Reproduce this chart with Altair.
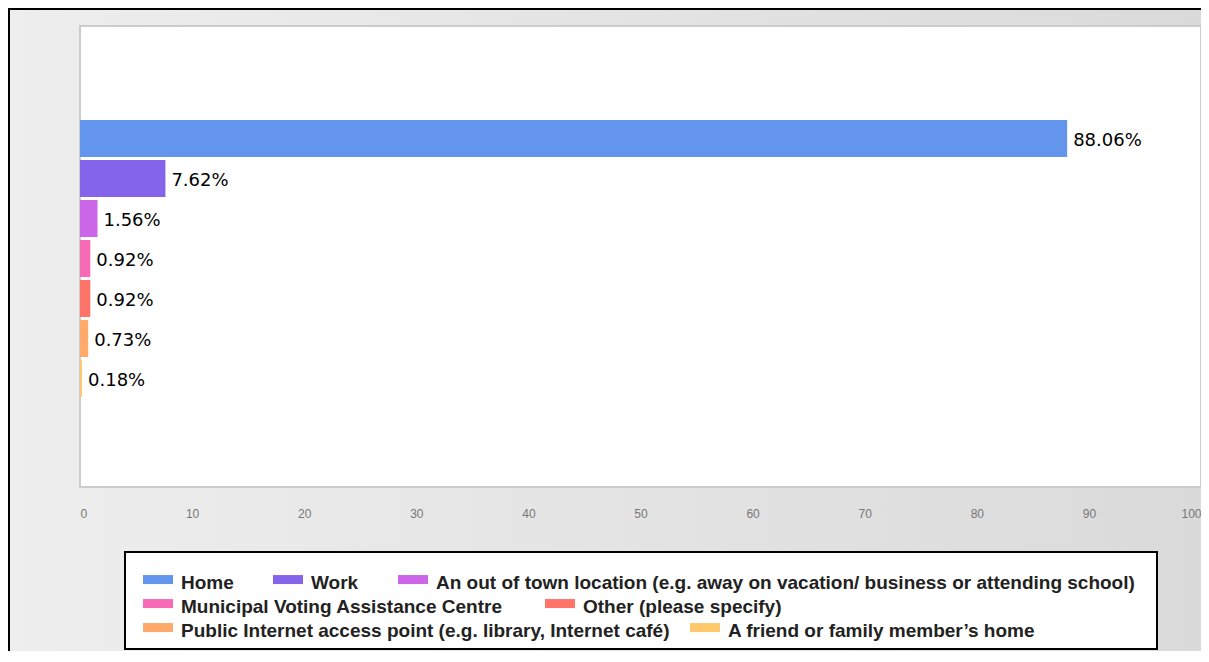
import altair as alt
import pandas as pd

categories = [
    "Home",
    "Work",
    "An out of town location (e.g. away on vacation/ business or attending school)",
    "Municipal Voting Assistance Centre",
    "Other (please specify)",
    "Public Internet access point (e.g. library, Internet café)",
    "A friend or family member\u2019s home",
]
values = [88.06, 7.62, 1.56, 0.92, 0.92, 0.73, 0.18]
colors = ["#6495ED", "#8464EA", "#CC66E8", "#F76AB5", "#FF7369", "#FFAA6B", "#FFC86B"]
x_ticks = [0, 10, 20, 30, 40, 50, 60, 70, 80, 90, 100]
legend_rows = [[0, 1, 2], [3, 4], [5, 6]]

df = pd.DataFrame({"cat": categories, "value": values})
df["label"] = [f"{v:.2f}%" for v in values]

PAD_L, PAD_T, PAD_R, PAD_B = 72, 18, 0, 164
W, H = 1121, 461
RIGHT = W + PAD_R
BOTTOM = H + PAD_B
one = pd.DataFrame({"k": [0]})

axis_def = alt.Axis(values=x_ticks, ticks=False, domain=False, grid=False, title=None,
                    labelColor="#777777", labelFontSize=12, labelFont="Liberation Sans",
                    labelPadding=21, zindex=1)
xenc = alt.X("value:Q", scale=alt.Scale(domain=[0, 100], nice=False, zero=True), axis=axis_def)
yenc = alt.Y("cat:N", sort=categories,
             scale=alt.Scale(domain=categories, paddingInner=0.075, paddingOuter=0,
                             range=[94, 371]),
             axis=None)

bg = alt.Chart(one).mark_rect(
    fill=alt.LinearGradient(gradient="linear", x1=0, x2=1, y1=0, y2=0,
                            stops=[alt.GradientStop(color="#eeeeee", offset=0),
                                   alt.GradientStop(color="#dadada", offset=1)]),
).encode(x=alt.value(-PAD_L), x2=alt.value(RIGHT), y=alt.value(-PAD_T), y2=alt.value(BOTTOM))

border_left = alt.Chart(one).mark_rule(color="black", strokeWidth=2).encode(
    x=alt.value(-PAD_L + 1), y=alt.value(-PAD_T), y2=alt.value(BOTTOM))
border_top = alt.Chart(one).mark_rule(color="black", strokeWidth=2).encode(
    x=alt.value(-PAD_L), x2=alt.value(RIGHT), y=alt.value(-PAD_T + 1))

plotbox = alt.Chart(one).mark_rect(fill="white", stroke="#cccccc", strokeWidth=2).encode(
    x=alt.value(0), x2=alt.value(W), y=alt.value(0), y2=alt.value(H))

legbox = alt.Chart(one).mark_rect(fill="white", stroke="black", strokeWidth=2).encode(
    x=alt.value(45), x2=alt.value(1077), y=alt.value(526), y2=alt.value(623))

sym = "M-1,-0.53H1V0.07H-1Z"
leg_y = [542, 566, 590]
col_pad = [39, 42, 20]
bar_layers = []
for r, idx in enumerate(legend_rows):
    sub_c = [categories[i] for i in idx]
    sub_col = [colors[i] for i in idx]
    layer = alt.Chart(df[df["cat"].isin(sub_c)]).mark_bar().encode(
        x=xenc, y=yenc,
        color=alt.Color("cat:N", scale=alt.Scale(domain=sub_c, range=sub_col),
                        legend=alt.Legend(orient="none", legendX=63, legendY=leg_y[r],
                                          direction="horizontal", columns=len(sub_c),
                                          title=None, symbolType=sym, symbolSize=900,
                                          symbolStrokeWidth=0, symbolOpacity=1,
                                          labelFont="Liberation Sans", labelFontWeight="bold",
                                          labelFontSize=19, labelColor="#222222",
                                          labelOffset=8, columnPadding=col_pad[r],
                                          labelLimit=1000, padding=0)),
    )
    bar_layers.append(layer)

text = alt.Chart(df).mark_text(align="left", baseline="middle", dx=6, dy=2, font="DejaVu Sans",
                               fontSize=18, color="black").encode(
    x=xenc, y=yenc, text="label:N")

chart = alt.layer(bg, border_left, border_top, plotbox, legbox, *bar_layers, text).resolve_scale(
    color="independent").resolve_legend(color="independent").properties(
    width=W, height=H,
    autosize=alt.AutoSizeParams(type="none"),
    padding={"left": PAD_L, "top": PAD_T, "right": PAD_R, "bottom": PAD_B},
    background="#e6e6e6",
).configure_view(stroke="transparent")

chart.save("out.html", embed_options={"renderer": "svg", "actions": False})
